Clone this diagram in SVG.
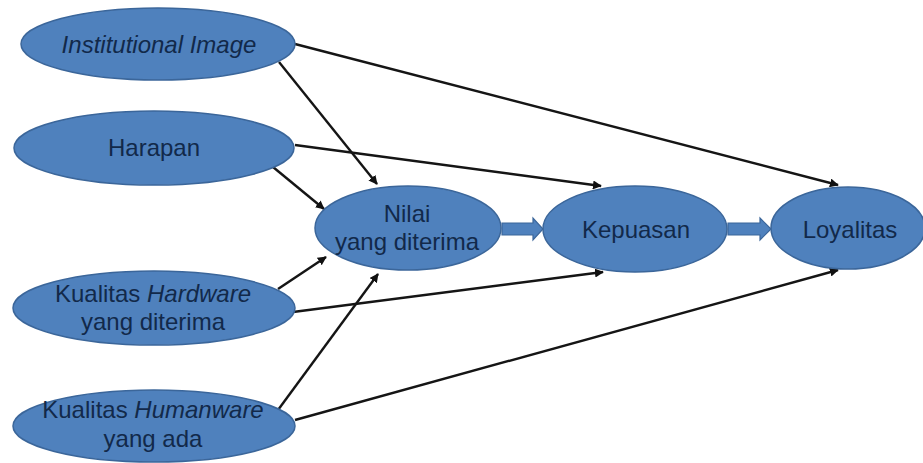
<svg xmlns="http://www.w3.org/2000/svg" width="923" height="463" viewBox="0 0 923 463">
<defs>
<style>
.node ellipse{fill:#4F81BD;stroke:#3B669A;stroke-width:1.5}
.node text{font-family:"Liberation Sans",Arial,sans-serif;font-size:24px;fill:#12294A;text-anchor:middle}
.it{font-style:italic}
.conn line{stroke:#151515;stroke-width:2.4;marker-end:url(#ah)}
.block{fill:#4F81BD;stroke:#3B669A;stroke-width:1.2}
</style>
<marker id="ah" viewBox="0 0 10 10" refX="9" refY="5" markerWidth="9" markerHeight="9" markerUnits="userSpaceOnUse" orient="auto">
<path d="M0,0 L10,5 L0,10 z" fill="#111"/>
</marker>
</defs>
<rect width="923" height="463" fill="#fff"/>
<g id="connectors" class="conn">
<line x1="295" y1="44" x2="838" y2="185"/>
<line x1="279" y1="62" x2="377" y2="184"/>
<line x1="295" y1="145" x2="601" y2="186"/>
<line x1="273" y1="167" x2="324" y2="209"/>
<line x1="278" y1="289" x2="326" y2="257"/>
<line x1="293" y1="312" x2="603" y2="272"/>
<line x1="278" y1="410" x2="378" y2="274"/>
<line x1="295" y1="420" x2="838" y2="270"/>
<path class="block" d="M502,223 L533,223 L533,218 L543,229 L533,240 L533,235 L502,235 z"/>
<path class="block" d="M728,223 L760,223 L760,218 L771,229 L760,240 L760,235 L728,235 z"/>
</g>
<g id="institutional-image" class="node">
<ellipse cx="158" cy="44" rx="137" ry="36"/>
<text x="159" y="53" class="it">Institutional Image</text>
</g>
<g id="harapan" class="node">
<ellipse cx="154" cy="148" rx="140" ry="37"/>
<text x="154" y="156">Harapan</text>
</g>
<g id="kualitas-hardware" class="node">
<ellipse cx="154" cy="308" rx="141" ry="37"/>
<text x="153" y="302">Kualitas <tspan class="it">Hardware</tspan></text>
<text x="153" y="330">yang diterima</text>
</g>
<g id="kualitas-humanware" class="node">
<ellipse cx="154" cy="426" rx="141" ry="36"/>
<text x="153" y="418">Kualitas <tspan class="it">Humanware</tspan></text>
<text x="153" y="447">yang ada</text>
</g>
<g id="nilai" class="node">
<ellipse cx="408" cy="228" rx="93" ry="42"/>
<text x="407" y="222">Nilai</text>
<text x="407" y="250">yang diterima</text>
</g>
<g id="kepuasan" class="node">
<ellipse cx="635" cy="229" rx="92" ry="43"/>
<text x="636" y="238">Kepuasan</text>
</g>
<g id="loyalitas" class="node">
<ellipse cx="848" cy="228" rx="77" ry="41"/>
<text x="850" y="238">Loyalitas</text>
</g>
</svg>
